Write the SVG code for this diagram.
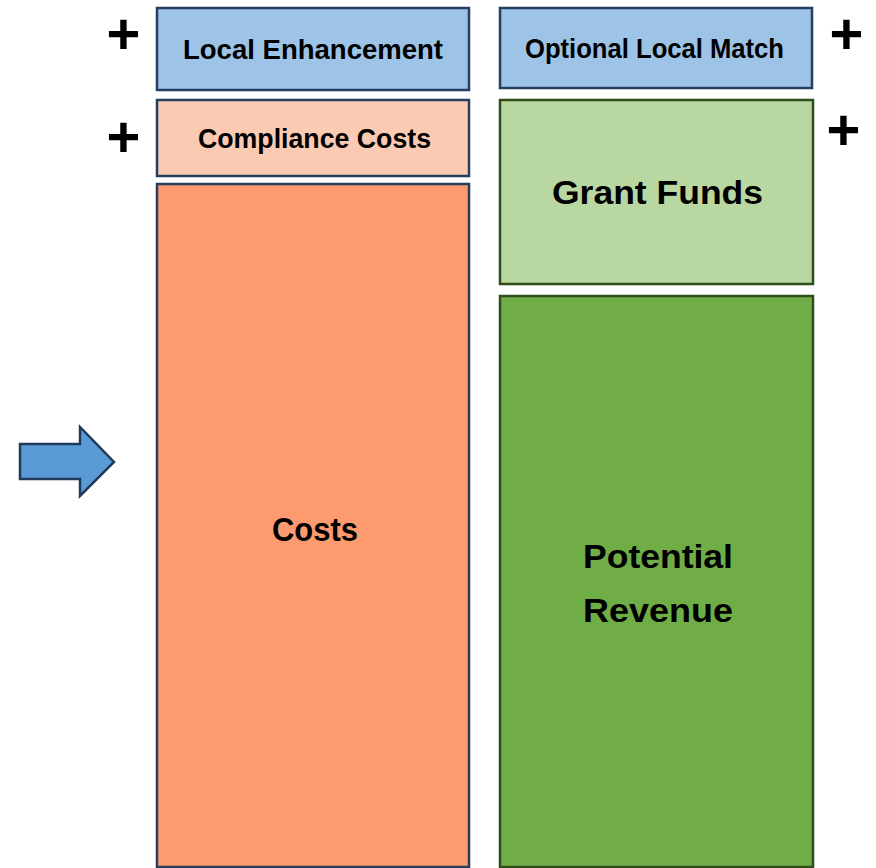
<svg xmlns="http://www.w3.org/2000/svg" width="876" height="868" viewBox="0 0 876 868">
  <style>
    .box-blue { stroke: #243f60; stroke-width: 2.5; }
    .box-green { stroke: #2e4d1a; stroke-width: 2.5; }
    .lbl { font-family: "Liberation Sans", Arial, sans-serif; font-weight: bold; fill: #000; text-anchor: middle; }
    .sm { font-size: 28px; }
    .lg { font-size: 33.5px; }
    .plus { font-family: "Liberation Sans", Arial, sans-serif; font-weight: bold; font-size: 58px; fill: #000; text-anchor: middle; }
  </style>
  <rect width="876" height="868" fill="#ffffff"/>

  <!-- cost side (left column) -->
  <g id="local-enhancement">
    <rect class="box-blue" x="157" y="8" width="312" height="82" fill="#9dc3e6"/>
    <text class="lbl sm" x="313" y="59" textLength="260" lengthAdjust="spacingAndGlyphs">Local Enhancement</text>
  </g>
  <g id="compliance-costs">
    <rect class="box-blue" x="157" y="100" width="312" height="76" fill="#fbcab2"/>
    <text class="lbl sm" x="314.5" y="148" textLength="233" lengthAdjust="spacingAndGlyphs">Compliance Costs</text>
  </g>
  <g id="costs">
    <rect class="box-blue" x="157" y="184" width="312" height="683" fill="#fe9a6f"/>
    <text class="lbl lg" x="315" y="541" textLength="86" lengthAdjust="spacingAndGlyphs">Costs</text>
  </g>

  <!-- funding side (right column) -->
  <g id="optional-local-match">
    <rect class="box-blue" x="500" y="8" width="312" height="80" fill="#9dc3e6"/>
    <text class="lbl sm" x="654.5" y="58" textLength="259" lengthAdjust="spacingAndGlyphs">Optional Local Match</text>
  </g>
  <g id="grant-funds">
    <rect class="box-green" x="500" y="100" width="313" height="184" fill="#b9d8a1"/>
    <text class="lbl lg" x="657.5" y="204" textLength="211" lengthAdjust="spacingAndGlyphs">Grant  Funds</text>
  </g>
  <g id="potential-revenue">
    <rect class="box-green" x="500" y="296" width="313" height="571" fill="#70ad47"/>
    <text class="lbl lg" x="658" y="568" textLength="150" lengthAdjust="spacingAndGlyphs">Potential</text>
    <text class="lbl lg" x="658" y="622" textLength="150" lengthAdjust="spacingAndGlyphs">Revenue</text>
  </g>

  <!-- plus signs -->
  <g id="plus-signs">
    <text class="plus" x="123.5" y="53.5">+</text>
    <text class="plus" x="123.5" y="157">+</text>
    <text class="plus" x="846.5" y="53.5">+</text>
    <text class="plus" x="843.5" y="150">+</text>
  </g>

  <!-- pointer arrow -->
  <g id="connectors">
    <polygon points="20,444 80,444 80,427 114,462 80,496 80,479 20,479" fill="#5b9bd5" stroke="#1f3a5a" stroke-width="2.5" stroke-linejoin="miter"/>
  </g>
</svg>
